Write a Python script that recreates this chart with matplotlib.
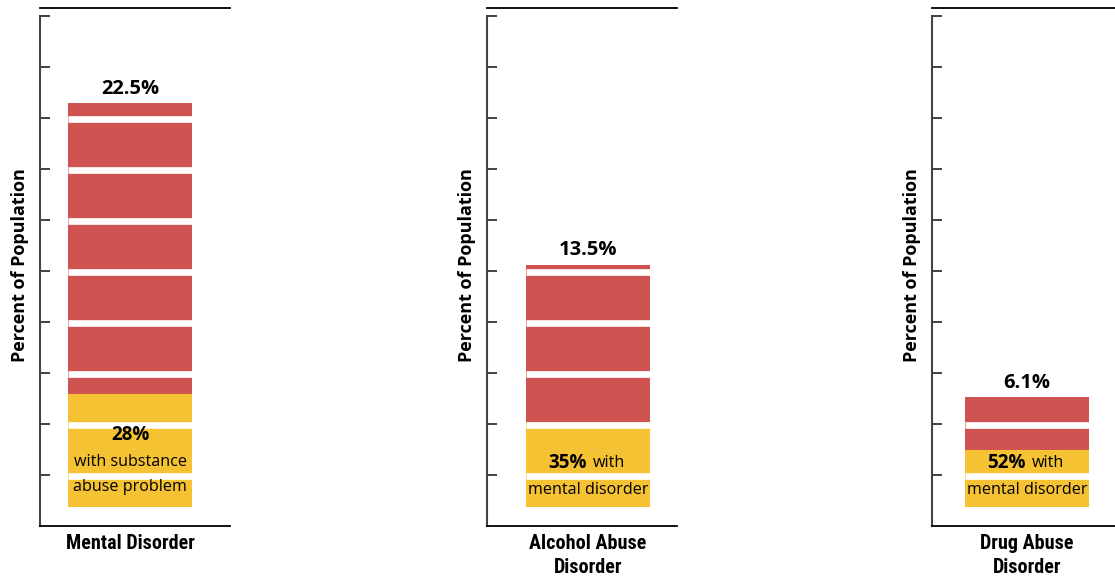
import matplotlib
matplotlib.use('Agg')
import matplotlib.pyplot as plt
import numpy as np

# prevalence of each disorder (% of population) and share with the co-occurring problem
categories = ['Mental Disorder', 'Alcohol Abuse\nDisorder', 'Drug Abuse\nDisorder']
totals = [22.5, 13.5, 6.1]
overlap_pct = [28, 35, 52]
overlap_text = [('28%', 'with substance', 'abuse problem'),
                ('35%', 'with', 'mental disorder'),
                ('52%', 'with', 'mental disorder')]

RED = '#cf5350'
YELLOW = '#f4c232'
plt.rcParams['font.family'] = ['Open Sans', 'DejaVu Sans']
COND = ['Roboto Condensed', 'DejaVu Sans']

W, H = 1115, 576
fig = plt.figure(figsize=(W / 100, H / 100), dpi=100)

px_per_pct = 17.96
ax_w, ax_top, ax_bot = 190, 16, 526
ax_lefts = [40, 487, 932]
bar_offsets = [28, 39, 33]      # bar left edge inside each panel (px)
bar_px = 124

ylim = (-(ax_bot - 507) / px_per_pct, (507 - ax_top) / px_per_pct)
ticks = np.linspace(ylim[0], ylim[1], 11)[1:]

for i in range(3):
    left = ax_lefts[i]
    ax = fig.add_axes([left / W, 1 - ax_bot / H, ax_w / W, (ax_bot - ax_top) / H])
    total = totals[i]
    yellow = total * overlap_pct[i] / 100

    # spines first: moving a spine resets that axis' ticks
    ax.spines['right'].set_visible(False)
    ax.spines['top'].set_position(('outward', 5.8))
    ax.spines['top'].set_linewidth(1.3)
    ax.spines['bottom'].set_linewidth(1.3)
    ax.spines['left'].set_linewidth(1.5)
    ax.spines['left'].set_color('#444444')

    ax.bar(0, yellow, width=1, color=YELLOW, zorder=1)
    ax.bar(0, total - yellow, bottom=yellow, width=1, color=RED, zorder=1)
    # white rules across the bar at each tick
    ax.hlines(ticks[ticks < total] - 0.05, -0.5, 0.5, color='white', lw=4.8, zorder=2)

    ax.annotate(f'{total}%', (0, total), xytext=(0, 3), textcoords='offset points',
                ha='center', va='bottom', fontsize=14.5, fontweight='bold')

    big, a, b = overlap_text[i]
    if i == 0:
        ax.text(0, 4.0, big, ha='center', va='center', fontsize=13.5, fontweight='bold', zorder=3)
        ax.text(0, 2.5, a, ha='center', va='center', fontsize=11.6, zorder=3)
        ax.text(0, 1.1, b, ha='center', va='center', fontsize=11.6, zorder=3)
    else:
        ax.text(-0.01, 2.45, big, ha='right', va='center', fontsize=13.5, fontweight='bold', zorder=3)
        ax.text(0.04, 2.45, a, ha='left', va='center', fontsize=11.6, zorder=3)
        ax.text(0, 0.95, b, ha='center', va='center', fontsize=11.6, zorder=3)

    x0 = -0.5 - bar_offsets[i] / bar_px
    ax.set_xlim(x0, x0 + ax_w / bar_px)
    ax.set_ylim(*ylim)

    ax.tick_params(axis='y', direction='in', length=7, width=1.3, color='#333333')
    ax.tick_params(axis='x', length=0, pad=6)
    ax.set_yticks(ticks)
    ax.set_yticklabels([])
    ax.set_xticks([0])
    ax.set_xticklabels([categories[i]], fontsize=14.5, fontweight='bold',
                       family=COND, linespacing=1.3)

    ax.set_ylabel('Percent of Population', fontsize=13, fontweight='bold')
    ax.yaxis.set_label_coords(-11 / ax_w, 0.512)

fig.savefig('out.png', dpi=100)
